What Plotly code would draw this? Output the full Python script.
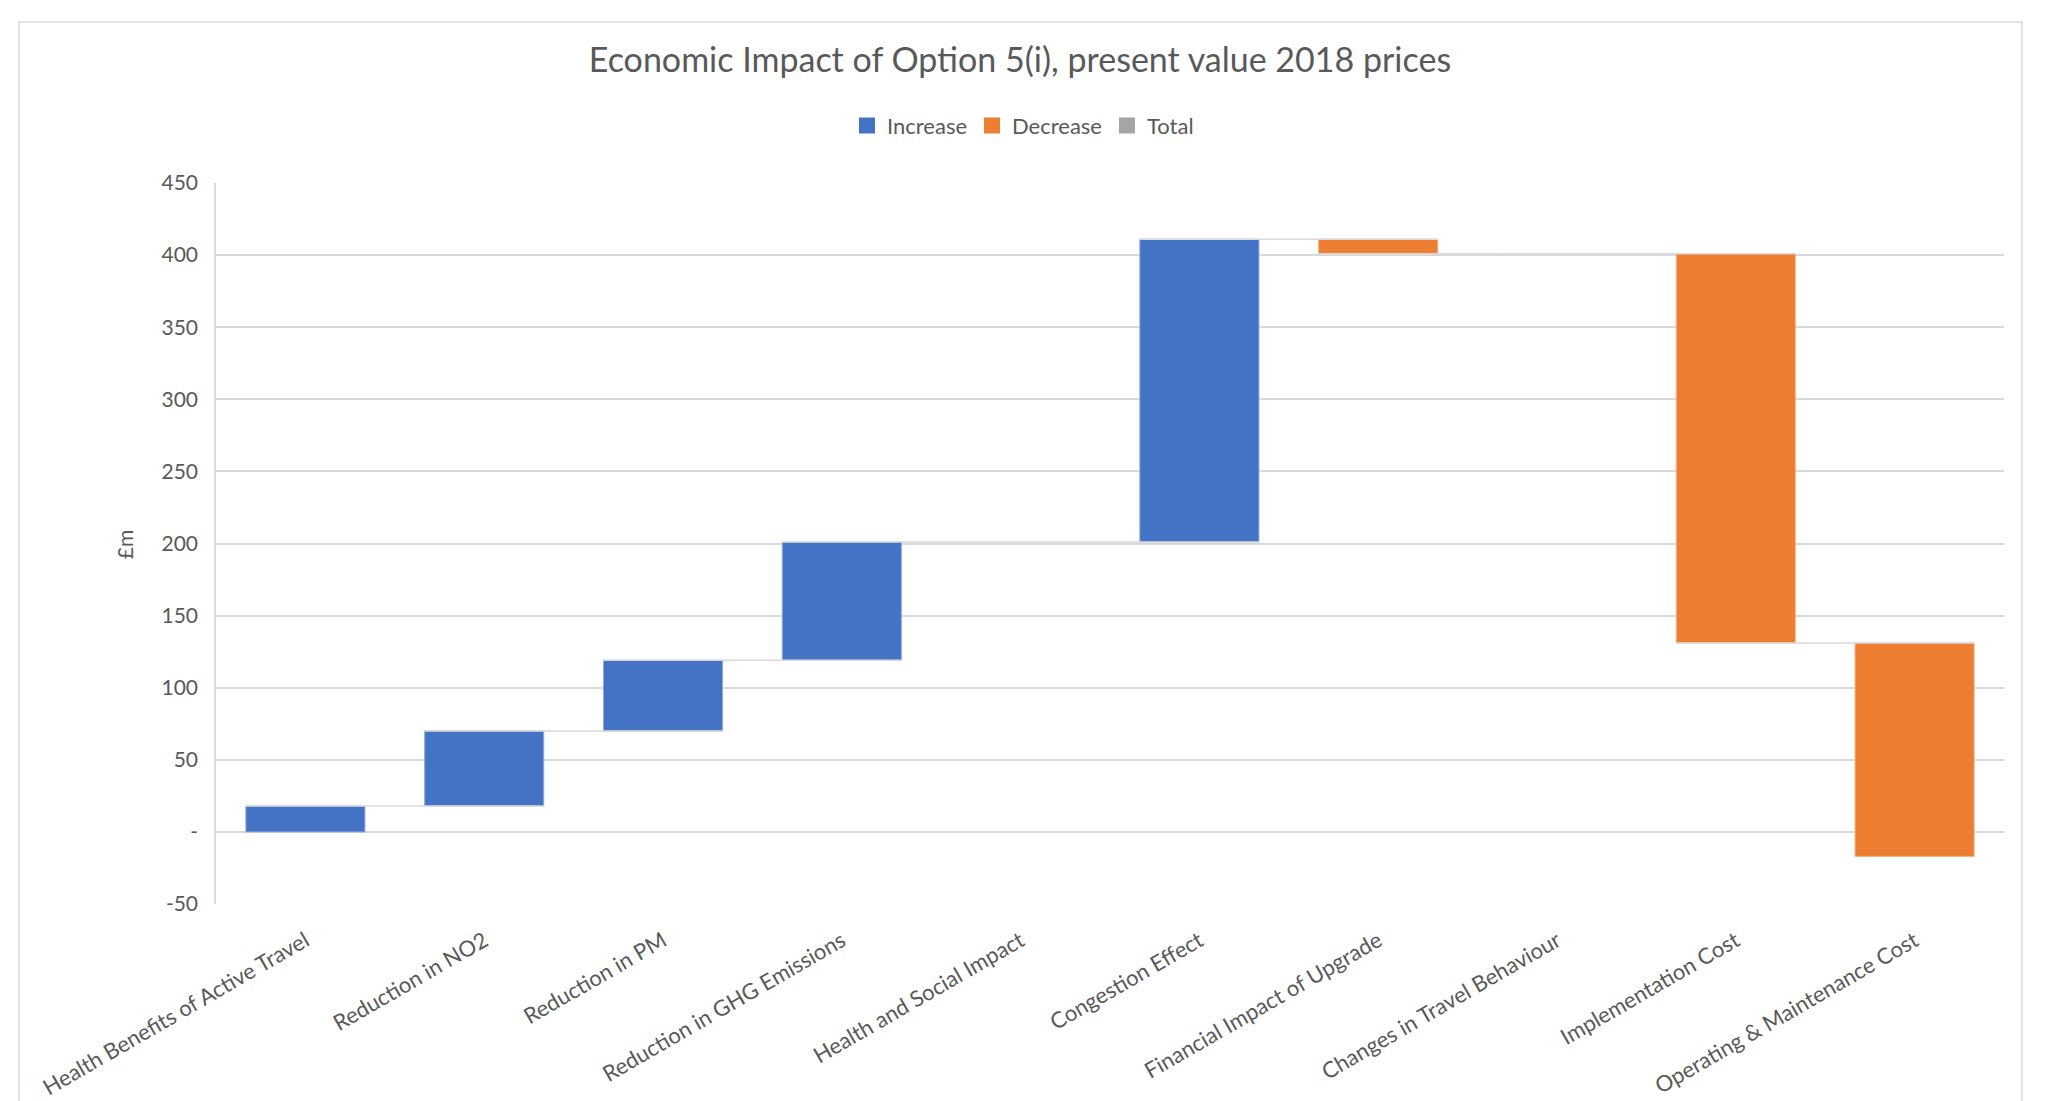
import plotly.graph_objects as go

categories = [
    "Health Benefits of Active Travel",
    "Reduction in NO2",
    "Reduction in PM",
    "Reduction in GHG Emissions",
    "Health and Social Impact",
    "Congestion Effect",
    "Financial Impact of Upgrade",
    "Changes in Travel Behaviour",
    "Implementation Cost",
    "Operating & Maintenance Cost",
]
values = [18, 52, 49, 82, 0, 210, -10, 0, -270, -148]
measures = ["relative"] * len(values)

legend_names = ["Increase", "Decrease", "Total"]
legend_colors = ["#4472C4", "#ED7D31", "#A5A5A5"]

y_tickvals = [-50, 0, 50, 100, 150, 200, 250, 300, 350, 400, 450]
y_ticktext = ["-50", "-", "50", "100", "150", "200", "250", "300", "350", "400", "450"]

FONT = "Lato"
TXT = "#595959"
GRID = "#D9D9D9"

fig = go.Figure()
fig.add_trace(go.Waterfall(
    x=categories, y=values, measure=measures,
    increasing=dict(marker=dict(color=legend_colors[0], line=dict(color="#8FAADC", width=1))),
    decreasing=dict(marker=dict(color=legend_colors[1], line=dict(color="#F4B183", width=1))),
    totals=dict(marker=dict(color=legend_colors[2])),
    connector=dict(mode="spanning", line=dict(color=GRID, width=1.5)),
    showlegend=False, hoverinfo="x+y",
))
for name, col in zip(legend_names, legend_colors):
    fig.add_trace(go.Scatter(
        x=[None], y=[None], mode="markers", name=name,
        marker=dict(symbol="square", size=19, color=col),
    ))

# page body has an 8px default margin; work in figure pixel coordinates
OFF = 8
W, H = 2051 - OFF, 1101 - OFF
L = 216 - OFF
R = W - (2004 - OFF)
T = 182.7 - OFF
B = H - (903.7 - OFF)
pw, ph = W - L - R, H - T - B

def px_x(x):
    return (x - OFF - L) / pw

def px_y(y):
    return (H - B - (y - OFF)) / ph

fig.update_layout(
    width=W, height=H,
    margin=dict(l=L, r=R, t=T, b=B, pad=0, autoexpand=False),
    paper_bgcolor="white", plot_bgcolor="white",
    font=dict(family=FONT, color=TXT),
    title=dict(text="Economic Impact of Option 5(i), present value 2018 prices",
               font=dict(size=34, color=TXT, family=FONT),
               x=(1020 - OFF) / W, xanchor="center", y=1 - (60 - OFF) / H, yanchor="middle",
               yref="container", xref="container"),
    legend=dict(orientation="h", x=px_x(1023), xanchor="center", y=px_y(125.5), yanchor="middle",
                font=dict(size=22, color=TXT), itemwidth=30, bgcolor="rgba(0,0,0,0)"),
    waterfallgap=0.334,
    showlegend=True,
)
fig.update_xaxes(
    type="category", tickangle=-30, tickfont=dict(size=22, color=TXT),
    showgrid=False, showline=False, ticks="", zeroline=False, ticklabelstandoff=19,
    automargin=False,
)
fig.update_yaxes(
    range=[-50, 450], tickvals=y_tickvals, ticktext=y_ticktext,
    tickfont=dict(size=21, color=TXT), showgrid=True, gridcolor=GRID, gridwidth=1.5,
    zeroline=False, showline=True, linecolor=GRID, linewidth=1.5,
    ticks="", ticklabelstandoff=12, fixedrange=True, automargin=False,
)
fig.add_annotation(text="£m", x=px_x(124), y=px_y(545), xref="paper", yref="paper",
                   xanchor="center", yanchor="middle",
                   textangle=-90, showarrow=False, font=dict(size=21, color=TXT))
fig.add_shape(type="rect", xref="paper", yref="paper",
              x0=px_x(19), x1=px_x(2022), y0=px_y(1140), y1=px_y(21.7),
              line=dict(color=GRID, width=1.5), fillcolor="rgba(0,0,0,0)", layer="below")

fig.write_html("out.html")
